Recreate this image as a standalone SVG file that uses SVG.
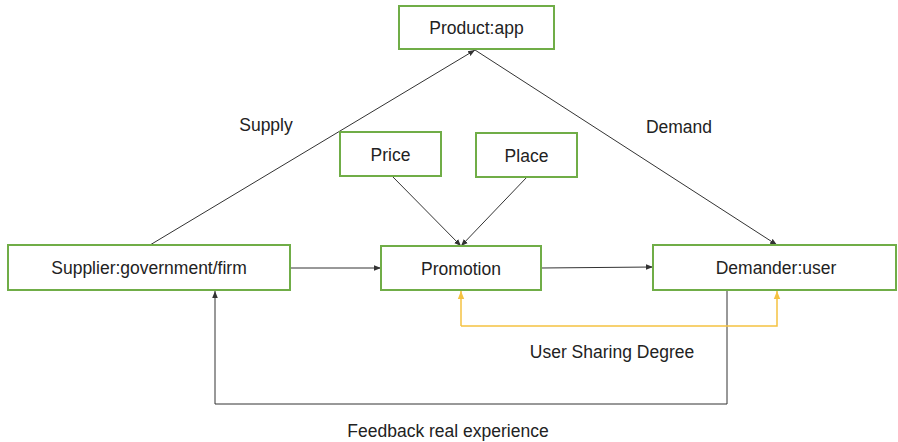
<svg xmlns="http://www.w3.org/2000/svg" width="898" height="442" viewBox="0 0 898 442">
<style>
.box{fill:#fff;stroke:#70ad47;stroke-width:2}
.t{font-family:"Liberation Sans",Arial,sans-serif;font-size:17.5px;fill:#222;text-anchor:middle}
.ln{fill:none;stroke:#333;stroke-width:1}
.yl{fill:none;stroke:#f5c242;stroke-width:1.5}
</style>
<defs>
<marker id="a" viewBox="0 0 10 10" refX="10" refY="5" markerWidth="7" markerHeight="7" orient="auto" markerUnits="userSpaceOnUse"><path d="M0,1 L10,5 L0,9 z" fill="#333"/></marker>
<marker id="y" viewBox="0 0 10 10" refX="10" refY="5" markerWidth="8" markerHeight="8" orient="auto" markerUnits="userSpaceOnUse"><path d="M0,1 L10,5 L0,9 z" fill="#f5c242"/></marker>
</defs>
<g id="connectors">
<line class="ln" x1="150" y1="245" x2="475" y2="50" marker-end="url(#a)"/>
<line class="ln" x1="475" y1="50" x2="777" y2="245" marker-end="url(#a)"/>
<line class="ln" x1="392" y1="176" x2="461" y2="246" marker-end="url(#a)"/>
<line class="ln" x1="527" y1="177" x2="461" y2="246" marker-end="url(#a)"/>
<line class="ln" x1="290" y1="268" x2="381" y2="268" marker-end="url(#a)"/>
<line class="ln" x1="541" y1="268" x2="653" y2="267" marker-end="url(#a)"/>
<polyline class="ln" points="727,290 727,404 215,404 215,291" marker-end="url(#a)"/>
<polyline class="yl" points="461,326 461,291" marker-end="url(#y)"/>
<polyline class="yl" points="461,326 777,326 777,291" marker-end="url(#y)"/>
</g>
<g id="product"><rect class="box" x="399" y="6" width="155" height="43"/><text class="t" x="476.5" y="34">Product:app</text></g>
<g id="price"><rect class="box" x="340" y="132" width="101" height="44"/><text class="t" x="390.5" y="161">Price</text></g>
<g id="place"><rect class="box" x="476" y="133" width="101" height="44"/><text class="t" x="526.5" y="162">Place</text></g>
<g id="supplier"><rect class="box" x="8" y="245" width="282" height="45"/><text class="t" x="149" y="274">Supplier:government/firm</text></g>
<g id="promotion"><rect class="box" x="381" y="246" width="160" height="44"/><text class="t" x="461" y="275">Promotion</text></g>
<g id="demander"><rect class="box" x="653" y="245" width="243" height="45"/><text class="t" x="776" y="274">Demander:user</text></g>
<g id="labels">
<text class="t" x="266" y="131">Supply</text>
<text class="t" x="679" y="133">Demand</text>
<text class="t" x="612" y="358">User Sharing Degree</text>
<text class="t" x="448" y="437">Feedback real experience</text>
</g>
</svg>
